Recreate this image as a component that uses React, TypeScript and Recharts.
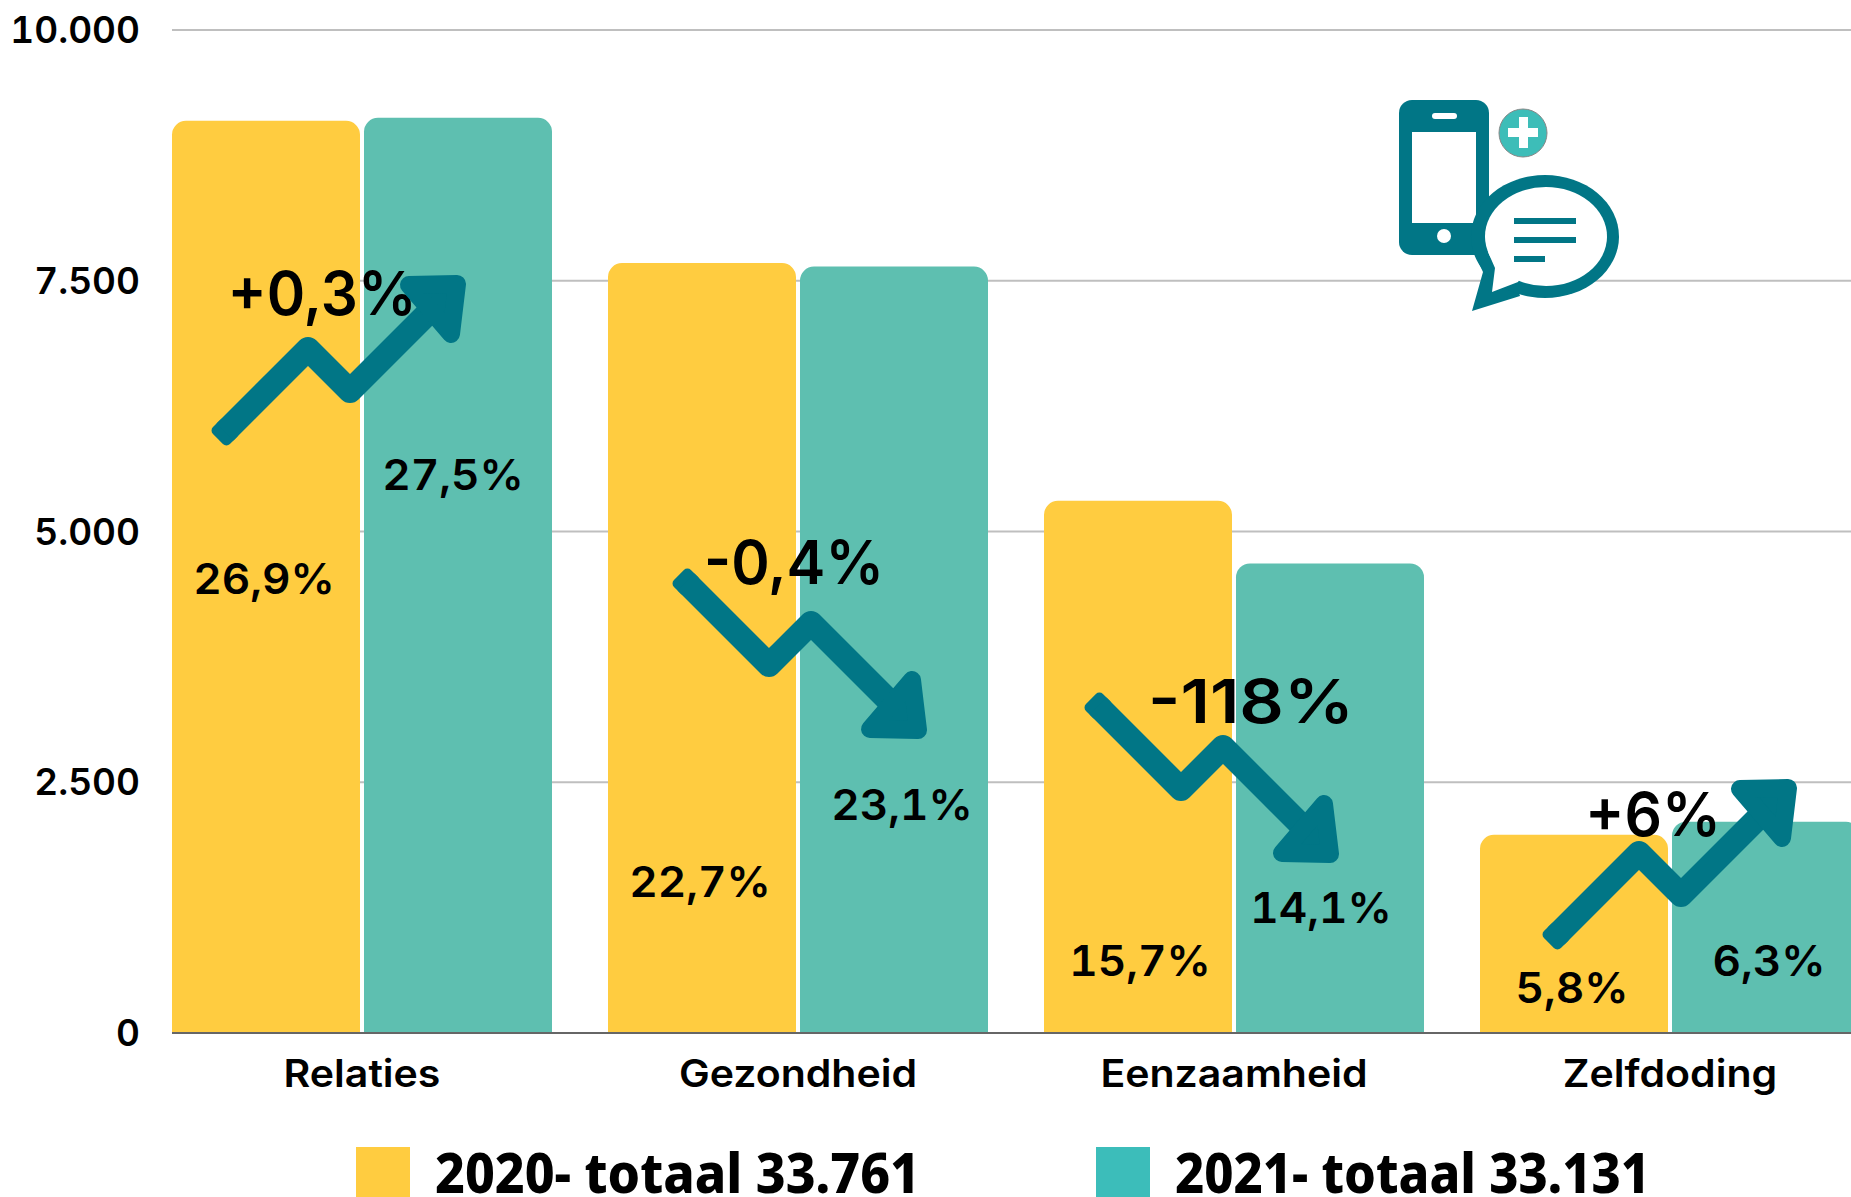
import {
  Bar,
  BarChart,
  CartesianGrid,
  LabelList,
  Legend,
  XAxis,
  YAxis,
} from "recharts";

const categories = ["Relaties", "Gezondheid", "Eenzaamheid", "Zelfdoding"];
const values2020 = [9094, 7676, 5306, 1976];
const values2021 = [9124, 7641, 4682, 2106];
const pct2020 = ["26,9%", "22,7%", "15,7%", "5,8%"];
const pct2021 = ["27,5%", "23,1%", "14,1%", "6,3%"];
const changes = ["+0,3%", "-0,4%", "-118%", "+6%"];
const yTicks = [0, 2500, 5000, 7500, 10000];
const yTickLabels = ["0", "2.500", "5.000", "7.500", "10.000"];
const seriesNames = ["2020- totaal 33.761", "2021- totaal 33.131"];

const rows = categories.map((name, i) => ({
  name,
  y2020: values2020[i],
  y2021: values2021[i],
  pct2020: pct2020[i],
  pct2021: pct2021[i],
}));

const FONT = "Inter, sans-serif";
const YELLOW = "#FFCC40";
const GREEN = "#5EBFB0";
const TEAL = "#017686";

// hand placed in the original, so the percentages sit at their own heights
const labels2020 = [
  { dx: -2, base: 594 },
  { dx: -2, base: 897 },
  { dx: 2, base: 976 },
  { dx: -2, base: 1003 },
];
const labels2021 = [
  { dx: -5, base: 490 },
  { dx: 8, base: 820 },
  { dx: -9, base: 923 },
  { dx: 3, base: 976 },
];

const changeSpots = [
  { x: 322, base: 315, w: 189 },
  { x: 794, base: 584, w: 180 },
  { x: 1251, base: 723, w: 206 },
  { x: 1653, base: 836, w: 136 },
];

const arrows = [
  { x: 218, y: 439, dir: -1 },
  { x: 679, y: 575, dir: 1 },
  { x: 1091, y: 699, dir: 1 },
  { x: 1549, y: 943, dir: -1 },
];

// Montserrat is not installed, Inter stretched a little comes closest
function WideText({ x, y, anchor, size, stretch, children }: any) {
  return (
    <text
      transform={`translate(${x},${y}) scale(${stretch},1)`}
      textAnchor={anchor}
      fontFamily={FONT}
      fontWeight={600}
      fontSize={size}
      fill="#000"
      style={{ fontVariantNumeric: "tabular-nums" }}
    >
      {children}
    </text>
  );
}

function pctLabel(spots: { dx: number; base: number }[]) {
  return (props: any) => {
    const spot = spots[props.index];
    return (
      <WideText
        x={props.x + props.width / 2 + spot.dx}
        y={spot.base}
        anchor="middle"
        size={42}
        stretch={1.05}
      >
        {props.value}
      </WideText>
    );
  };
}

function CategoryTick({ x, y, payload }: any) {
  return (
    <WideText x={x} y={y + 52} anchor="middle" size={38} stretch={1.08}>
      {payload.value}
    </WideText>
  );
}

function ValueTick({ x, y, payload }: any) {
  return (
    <WideText x={x + 1} y={y + 13} anchor="end" size={37} stretch={1.0}>
      {yTickLabels[yTicks.indexOf(payload.value)]}
    </WideText>
  );
}

function Arrow({ x, y, dir }: { x: number; y: number; dir: number }) {
  const p = (dx: number, dy: number) => `${x + dx},${y + dir * dy}`;
  return (
    <g>
      <rect
        x={-10}
        y={-12}
        width={20}
        height={24}
        rx={5}
        fill={TEAL}
        transform={`translate(${x + 7},${y + dir * 7}) rotate(${dir * 45})`}
      />
      <polyline
        points={[p(7, 7), p(90, 90), p(132, 48), p(222, 138)].join(" ")}
        fill="none"
        stroke={TEAL}
        strokeWidth={24}
        strokeLinejoin="round"
      />
      <polygon
        points={[p(191, 154), p(239, 155), p(233, 105)].join(" ")}
        fill={TEAL}
        stroke={TEAL}
        strokeWidth={18}
        strokeLinejoin="round"
      />
    </g>
  );
}

function PhoneIcon() {
  return (
    <g>
      <rect x={1399} y={100} width={90} height={155} rx={13} fill={TEAL} />
      <rect x={1412} y={132} width={64} height={91} fill="#fff" />
      <rect x={1432} y={113} width={25} height={6} rx={3} fill="#fff" />
      <circle cx={1444} cy={236} r={7} fill="#fff" />
      <circle cx={1523} cy={133} r={24} fill="#3DBDB8" stroke="#888" strokeWidth={1} />
      <rect x={1508} y={128} width={30} height={9} fill="#fff" />
      <rect x={1519} y={117} width={9} height={31} fill="#fff" />
      <polygon points="1474,253 1483,272 1472,311 1520,296 1510,262" fill={TEAL} />
      <ellipse cx={1545} cy={236.5} rx={74} ry={61.5} fill={TEAL} />
      <ellipse cx={1546} cy={236.5} rx={61} ry={49.5} fill="#fff" />
      <polygon points="1488,252 1495,268 1492,292 1518,282 1530,262" fill="#fff" />
      <rect x={1514} y={218} width={62} height={6} fill={TEAL} />
      <rect x={1514} y={237} width={62} height={6} fill={TEAL} />
      <rect x={1514} y={256} width={31} height={6} fill={TEAL} />
    </g>
  );
}

function LegendBlock() {
  const swatches = [
    { x: 356, text: 435, w: 485, color: YELLOW },
    { x: 1096, text: 1175, w: 475, color: "#3CBDBA" },
  ];
  return (
    <svg width={1851} height={1197} style={{ position: "absolute", left: 0, top: 0 }}>
      {seriesNames.map((name, i) => (
        <g key={name}>
          <rect x={swatches[i].x} y={1147} width={54} height={50} fill={swatches[i].color} />
          <text
            x={swatches[i].text}
            y={1193}
            fontFamily="'Noto Sans', sans-serif"
            fontWeight={800}
            fontSize={55}
            textLength={swatches[i].w}
            lengthAdjust="spacingAndGlyphs"
            fill="#000"
          >
            {name}
          </text>
        </g>
      ))}
    </svg>
  );
}

export default function App() {
  return (
    <div
      style={{
        position: "absolute",
        left: 0,
        top: 0,
        width: 1851,
        height: 1197,
        overflow: "hidden",
        background: "#fff",
      }}
    >
      <BarChart
        width={1851}
        height={1197}
        data={rows}
        margin={{ top: 30, right: 0, bottom: 0, left: 0 }}
        barSize={188}
        barGap={4}
      >
        <CartesianGrid vertical={false} stroke="#BFBFBF" strokeWidth={2} />
        <XAxis
          dataKey="name"
          height={164}
          padding={{ left: -28, right: -37 }}
          interval={0}
          tickLine={false}
          tickSize={0}
          axisLine={{ stroke: "#666666", strokeWidth: 2 }}
          tick={CategoryTick}
        />
        <YAxis
          width={172}
          domain={[0, 10000]}
          ticks={yTicks}
          axisLine={false}
          tickLine={false}
          tickSize={0}
          tickMargin={33}
          tick={ValueTick}
        />
        <Legend content={() => <LegendBlock />} wrapperStyle={{ left: 0, top: 0, height: 0, width: 0 }} />
        <Bar dataKey="y2020" fill={YELLOW} radius={[14, 14, 0, 0]} isAnimationActive={false}>
          <LabelList dataKey="pct2020" content={pctLabel(labels2020)} />
        </Bar>
        <Bar dataKey="y2021" fill={GREEN} radius={[14, 14, 0, 0]} isAnimationActive={false}>
          <LabelList dataKey="pct2021" content={pctLabel(labels2021)} />
        </Bar>
      </BarChart>
      {/* the arrows and the icon lie on top of the bars */}
      <svg width={1851} height={1197} style={{ position: "absolute", left: 0, top: 0 }}>
        {changes.map((c, i) => (
          <text
            key={c}
            x={changeSpots[i].x}
            y={changeSpots[i].base}
            textAnchor="middle"
            fontFamily={FONT}
            fontWeight={600}
            fontSize={61}
            textLength={changeSpots[i].w}
            lengthAdjust="spacingAndGlyphs"
            fill="#000"
          >
            {c}
          </text>
        ))}
        {arrows.map((a) => (
          <Arrow key={a.x} {...a} />
        ))}
        <PhoneIcon />
      </svg>
    </div>
  );
}
